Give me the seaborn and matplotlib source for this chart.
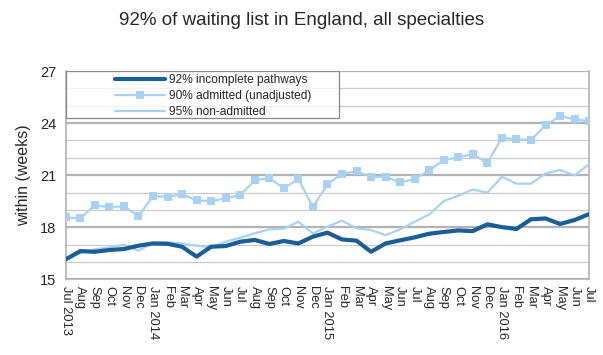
import numpy as np
import pandas as pd
import seaborn as sns
import matplotlib.pyplot as plt
from matplotlib.ticker import MultipleLocator
from matplotlib.patches import Rectangle

# monthly values, Jul 2013 .. Jul 2016
months = ["Jul 2013", "Aug", "Sep", "Oct", "Nov", "Dec",
          "Jan 2014", "Feb", "Mar", "Apr", "May", "Jun", "Jul", "Aug", "Sep", "Oct", "Nov", "Dec",
          "Jan 2015", "Feb", "Mar", "Apr", "May", "Jun", "Jul", "Aug", "Sep", "Oct", "Nov", "Dec",
          "Jan 2016", "Feb", "Mar", "Apr", "May", "Jun", "Jul"]

incomplete = [16.15, 16.63, 16.59, 16.69, 16.75, 16.94, 17.07, 17.05, 16.88, 16.31,
              16.88, 16.92, 17.17, 17.27, 17.04, 17.21, 17.07, 17.46, 17.69, 17.30,
              17.23, 16.59, 17.07, 17.25, 17.42, 17.63, 17.73, 17.82, 17.78, 18.17,
              18.01, 17.90, 18.46, 18.51, 18.19, 18.42, 18.76]

admitted = [18.57, 18.51, 19.26, 19.17, 19.20, 18.65, 19.78, 19.76, 19.90, 19.55,
            19.51, 19.67, 19.86, 20.70, 20.84, 20.24, 20.78, 19.17, 20.47, 21.09,
            21.22, 20.90, 20.90, 20.59, 20.78, 21.28, 21.87, 22.03, 22.22, 21.70,
            23.16, 23.06, 23.03, 23.87, 24.41, 24.22, 24.10]

non_admitted = [16.21, 16.50, 16.73, 16.84, 17.00, 16.65, 17.10, 17.13, 17.07, 16.94,
                16.84, 17.17, 17.40, 17.65, 17.88, 17.92, 18.32, 17.65, 18.03, 18.38,
                17.94, 17.84, 17.55, 17.88, 18.32, 18.74, 19.51, 19.82, 20.18, 19.99,
                20.91, 20.51, 20.51, 21.10, 21.30, 20.99, 21.64]

df = pd.DataFrame({"idx": np.arange(len(months)),
                   "incomplete": incomplete,
                   "admitted": admitted,
                   "non_admitted": non_admitted})

sns.set_style("white")
plt.rcParams['font.family'] = ['Liberation Sans', 'DejaVu Sans']

fig = plt.figure(figsize=(6.03, 3.55), dpi=100)
ax = fig.add_axes([0.109, 0.213, 0.868, 0.587])

dark = "#1b5d95"
light = "#a9d1f3"

sns.lineplot(data=df, x="idx", y="incomplete", ax=ax, color=dark, linewidth=3,
             label="92% incomplete pathways", zorder=4)
sns.lineplot(data=df, x="idx", y="admitted", ax=ax, color=light, linewidth=1.6,
             marker="s", markersize=6, markeredgewidth=0,
             label="90% admitted (unadjusted)", zorder=3)
sns.lineplot(data=df, x="idx", y="non_admitted", ax=ax, color=light, linewidth=1.6,
             label="95% non-admitted", zorder=3)

ax.set_xlim(0, len(months) - 1)
ax.set_ylim(15, 27)
ax.yaxis.set_major_locator(MultipleLocator(3))
ax.yaxis.set_minor_locator(MultipleLocator(1))
ax.grid(which="major", axis="y", color="#b3b3b3", linewidth=1.6)
ax.grid(which="minor", axis="y", color="#cccccc", linewidth=0.9)
ax.set_axisbelow(True)

ax.set_xticks(df["idx"])
ax.set_xticklabels(months, rotation=-90, fontsize=9.3, va="top", ha="center")
ax.tick_params(axis="x", which="major", direction="out", length=4, width=0.8,
               color="#aaaaaa", pad=1)
ax.tick_params(axis="y", which="major", direction="out", length=5, width=0.8,
               color="#aaaaaa", labelsize=10.5, pad=2)
ax.tick_params(axis="y", which="minor", length=0)

for side in ["left", "bottom", "right"]:
    ax.spines[side].set_color("#b3b3b3")
    ax.spines[side].set_linewidth(1.2)
ax.spines["top"].set_visible(False)

ax.set_xlabel("")
ax.set_ylabel("within (weeks)", fontsize=11.5, labelpad=6)
fig.suptitle("92% of waiting list in England, all specialties", fontsize=13.5, x=0.5, y=0.965)

# legend box drawn separately, legend entries indented inside it
box = Rectangle((0, 0.776), 0.522, 0.224, transform=ax.transAxes,
                facecolor=(1, 1, 1, 0.75), edgecolor="#888888", linewidth=0.9, zorder=5)
ax.add_patch(box)
leg = ax.legend(loc="upper left", bbox_to_anchor=(0.088, 1.0), fontsize=8.6, frameon=False,
                handlelength=4.2, borderaxespad=0, labelspacing=0.35, borderpad=0.25,
                handletextpad=0.3)
leg.set_zorder(6)

fig.savefig("out.png", dpi=100)
